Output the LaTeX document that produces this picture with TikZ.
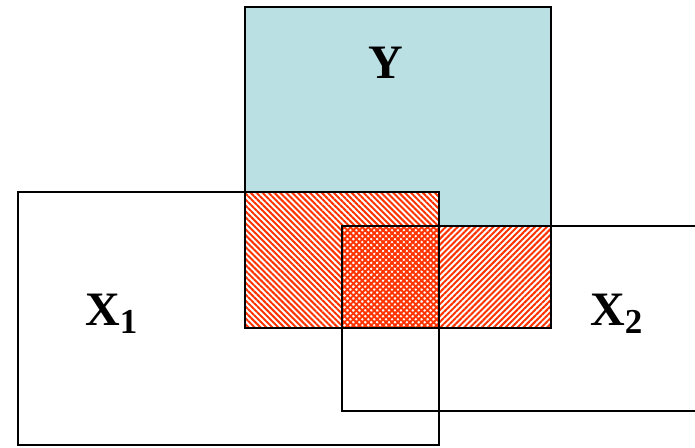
\documentclass[tikz,border=0pt]{standalone}
\usepackage{fontspec}
\setmainfont{Liberation Serif}
\usetikzlibrary{patterns.meta}
\definecolor{ycyan}{RGB}{187,224,227}
\definecolor{hatchred}{RGB}{255,51,0}
\tikzset{
  setbox/.style={draw=black, line width=2pt},
  hatchA/.style={pattern={Lines[angle=-45,distance=4.2pt,line width=2pt]}, pattern color=hatchred},
  hatchB/.style={pattern={Lines[angle=45,distance=4.2pt,line width=2pt]}, pattern color=hatchred},
  setlabel/.style={anchor=base west, inner sep=0pt, font=\fontsize{48}{48}\selectfont\bfseries},
}
\newcommand{\subidx}[1]{\raisebox{-8pt}{\fontsize{35}{35}\selectfont\bfseries #1}}
\begin{document}
\begin{tikzpicture}[x=1pt,y=-1pt]
  \useasboundingbox (0,0) rectangle (695,447);
  \begin{scope}
    \clip (0,0) rectangle (695,447);
    % Y set, shaded
    \fill[ycyan] (245,7) rectangle (551,328);
    % Y intersected with X1 and with X2
    \fill[white] (245,192) rectangle (439,328);
    \fill[white] (342,226) rectangle (551,328);
    \fill[hatchA] (245,192) rectangle (439,328);
    \fill[hatchB] (342,226) rectangle (551,328);
    % outlines
    \draw[setbox] (245,7) rectangle (551,328);
    \draw[setbox] (18,192) rectangle (439,445);
    \draw[setbox] (705,226) -- (342,226) -- (342,411) -- (705,411);
  \end{scope}
  % labels
  \node[setlabel] (ylab) at (368,78) {Y};
  \node[setlabel] (x1lab) at (85,325) {X\subidx{1}};
  \node[setlabel] (x2lab) at (590,325) {X\subidx{2}};
\end{tikzpicture}
\end{document}
